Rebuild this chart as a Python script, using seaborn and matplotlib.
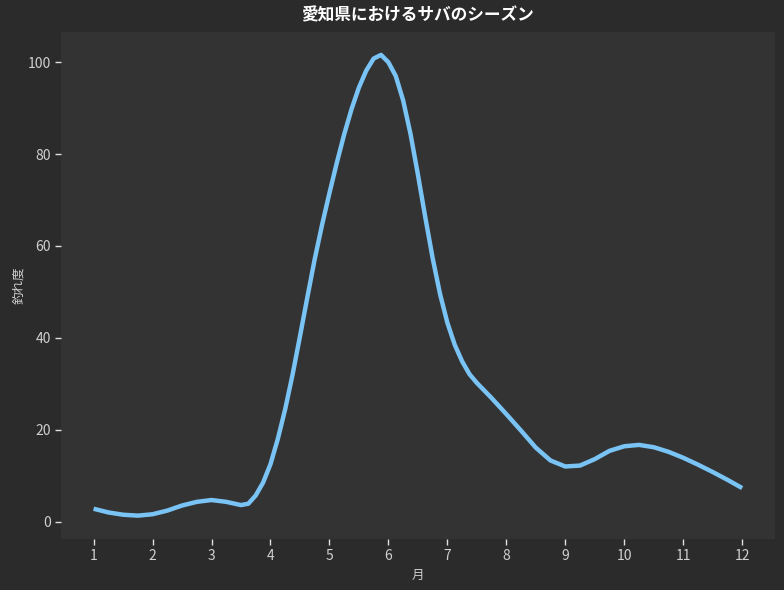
import matplotlib
matplotlib.use("Agg")
import matplotlib.pyplot as plt
import seaborn as sns
import pandas as pd

# Values (month position -> catch index)
month_pos = [1.0, 1.25, 1.5, 1.75, 2.0, 2.25, 2.5, 2.75, 3.0, 3.25, 3.5, 3.625, 3.75, 3.875,
             4.0, 4.125, 4.25, 4.375, 4.5, 4.625, 4.75, 4.875, 5.0, 5.125, 5.25, 5.375,
             5.5, 5.625, 5.75, 5.875, 6.0, 6.125, 6.25, 6.375, 6.5, 6.625, 6.75, 6.875,
             7.0, 7.125, 7.25, 7.375, 7.5, 7.75, 8.0, 8.25, 8.5, 8.75, 9.0,
             9.25, 9.5, 9.75, 10.0, 10.25, 10.5, 10.75, 11.0, 11.25, 11.5, 11.75, 12.0]
catch_index = [2.8, 2.0, 1.5, 1.3, 1.6, 2.4, 3.5, 4.3, 4.7, 4.3, 3.6, 3.9, 5.7, 8.5,
               12.5, 18.0, 24.5, 32.0, 40.3, 48.8, 57.1, 64.6, 71.5, 78.1, 84.3, 89.8,
               94.5, 98.2, 100.8, 101.6, 100.0, 97.0, 91.7, 84.4, 75.6, 66.3, 57.4, 49.6,
               43.3, 38.5, 34.9, 32.1, 30.2, 26.9, 23.4, 19.8, 16.1, 13.3, 12.0,
               12.2, 13.6, 15.4, 16.4, 16.7, 16.2, 15.2, 13.9, 12.4, 10.8, 9.1, 7.3]
month_ticks = list(range(1, 13))
month_labels = [str(m) for m in month_ticks]

title = "愛知県におけるサバのシーズン"
xlabel = "月"
ylabel = "釣れ度"

sns.set_theme(style="dark")
plt.rcParams["font.family"] = ["Noto Sans CJK JP", "DejaVu Sans"]

fig_bg = "#2b2b2b"
ax_bg = "#333333"
txt = "#d0d0d0"

df = pd.DataFrame({"month": month_pos, "value": catch_index})

fig = plt.figure(figsize=(7.84, 5.90), dpi=100, facecolor=fig_bg)
ax = fig.add_axes([0.078, 0.087, 0.910, 0.859])
ax.set_facecolor(ax_bg)

sns.lineplot(data=df, x="month", y="value", ax=ax, color="#79c3f5",
             linewidth=3.2, sort=False, solid_joinstyle="round",
             solid_capstyle="butt")

ax.set_xticks(month_ticks)
ax.set_xticklabels(month_labels)
ax.set_yticks([0, 20, 40, 60, 80, 100])
ax.tick_params(axis="both", colors="#e0e0e0", labelcolor=txt, labelsize=10,
               length=4, width=1, direction="out", bottom=True, left=True)
for s in ax.spines.values():
    s.set_visible(False)
ax.grid(False)

ax.set_title(title, color="white", fontsize=12, fontweight="bold", pad=8)
ax.set_xlabel(xlabel, color=txt, fontsize=9)
ax.set_ylabel(ylabel, color=txt, fontsize=9, labelpad=1.5)

fig.savefig("out.png", dpi=100, facecolor=fig_bg)
